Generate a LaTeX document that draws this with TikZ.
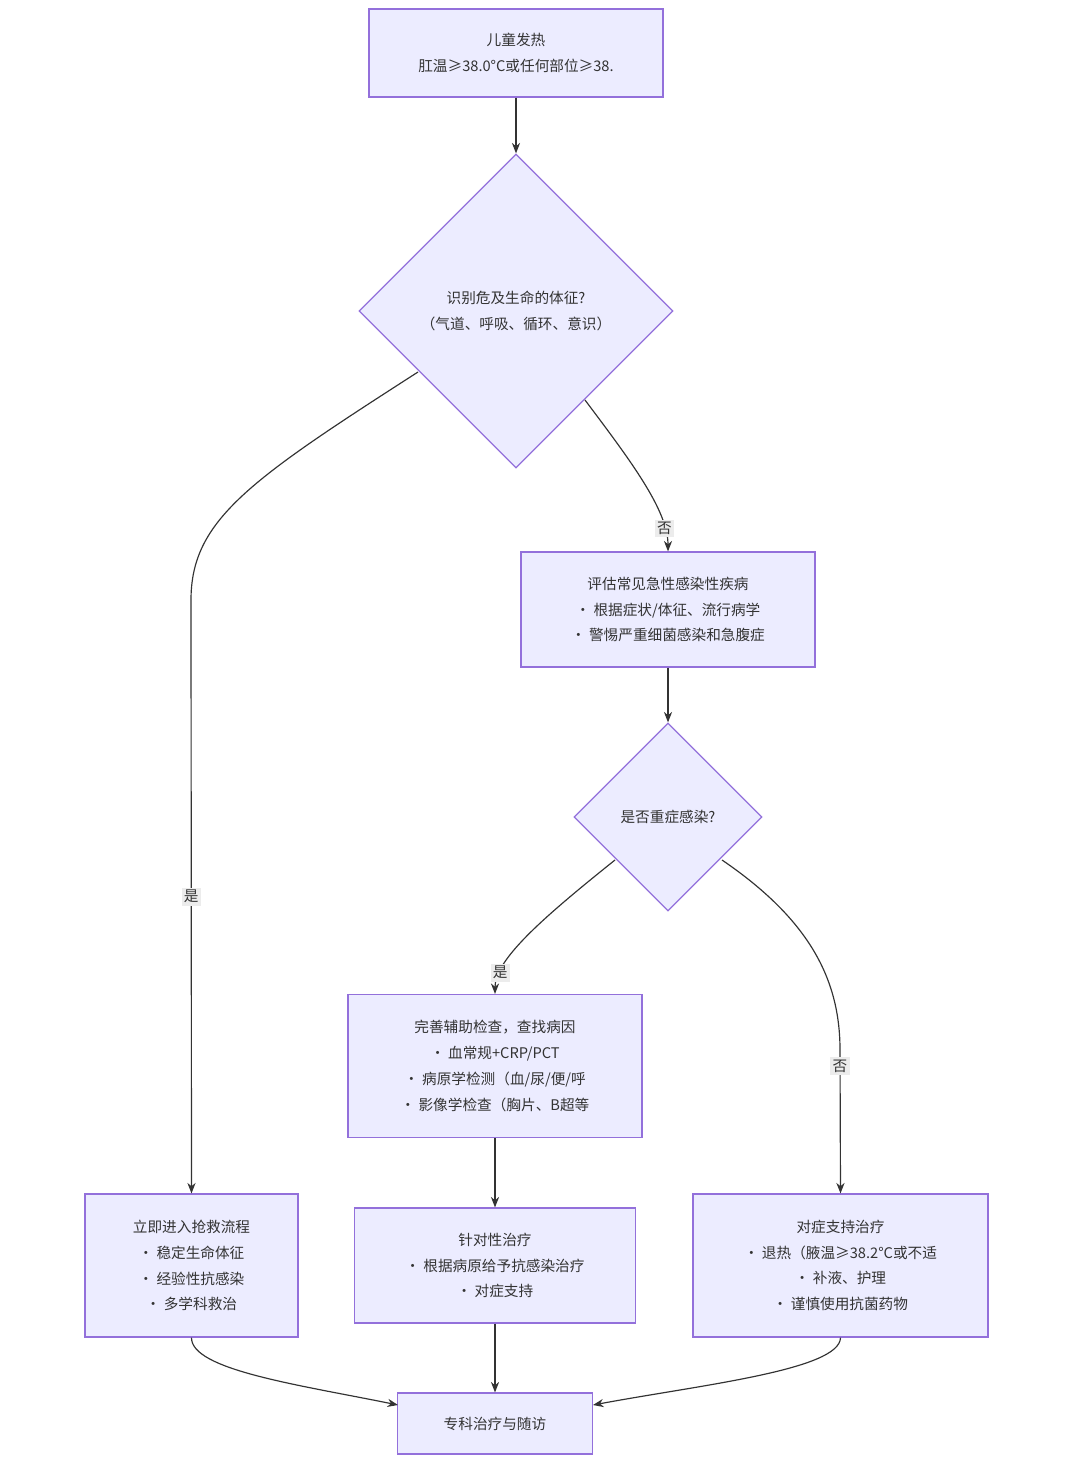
\documentclass[tikz,border=0pt]{standalone}
\usepackage{fontspec}
\setmainfont{Noto Sans CJK SC}
\usetikzlibrary{shapes.geometric,arrows.meta}
\definecolor{boxfill}{HTML}{ECECFF}
\definecolor{boxline}{HTML}{9370DB}
\definecolor{edge}{HTML}{333333}
\tikzset{
  box/.style={draw=boxline,fill=boxfill,line width=1pt,align=center,inner sep=0pt,
    font=\fontsize{12.5}{22}\selectfont,text=edge},
  dia/.style={box,diamond,aspect=1},
  link/.style={draw=edge,line width=1pt,-{Stealth[length=9pt,width=7pt]}},
  lab/.style={fill=gray!15,font=\fontsize{12.5}{14}\selectfont,text=edge,inner sep=2pt}
}
\begin{document}
\begin{tikzpicture}[x=0.03cm,y=-0.03cm]
\useasboundingbox (0,0) rectangle (1080,1464);

% nodes
\node[box,minimum width=294*0.03cm,minimum height=88*0.03cm] (fever) at (516,53)
  {儿童发热\\肛温≥38.0°C或任何部位≥38.};
\node[dia,minimum width=314*0.03cm,minimum height=314*0.03cm] (vital) at (516,311)
  {识别危及生命的体征?\\（气道、呼吸、循环、意识）};
\node[box,minimum width=294*0.03cm,minimum height=115*0.03cm] (assess) at (668,609.5)
  {评估常见急性感染性疾病\\• 根据症状/体征、流行病学\\• 警惕严重细菌感染和急腹症};
\node[dia,minimum width=188*0.03cm,minimum height=188*0.03cm] (severe) at (668,817)
  {是否重症感染?};
\node[box,minimum width=294*0.03cm,minimum height=143*0.03cm] (exam) at (495,1066)
  {完善辅助检查，查找病因\\• 血常规+CRP/PCT\\• 病原学检测（血/尿/便/呼\\• 影像学检查（胸片、B超等};
\node[box,minimum width=213*0.03cm,minimum height=143*0.03cm] (rescue) at (191.5,1265.5)
  {立即进入抢救流程\\• 稳定生命体征\\• 经验性抗感染\\• 多学科救治};
\node[box,minimum width=281*0.03cm,minimum height=115*0.03cm] (target) at (495,1265.5)
  {针对性治疗\\• 根据病原给予抗感染治疗\\• 对症支持};
\node[box,minimum width=295*0.03cm,minimum height=143*0.03cm] (support) at (840.5,1265.5)
  {对症支持治疗\\• 退热（腋温≥38.2°C或不适\\• 补液、护理\\• 谨慎使用抗菌药物};
\node[box,minimum width=195*0.03cm,minimum height=61*0.03cm] (follow) at (495,1423.5)
  {专科治疗与随访};

% bends
\coordinate (b1) at (191,600);
\coordinate (b2) at (840,1050);
\coordinate (e1) at (398,1405);
\coordinate (e2) at (593,1405);

% connectors
\draw[link] (fever) -- (vital);
\draw[link] (418,372) .. controls (250,480) and (191,520) .. (b1) -- node[lab]{是} (rescue.north);
\draw[link] (585,400) .. controls (630,460) and (668,510) .. (assess.north) node[lab,pos=0.82]{否};
\draw[link] (assess) -- (severe);
\draw[link] (615,860) .. controls (540,920) and (495,960) .. (exam.north) node[lab,pos=0.8]{是};
\draw[link] (722,860) .. controls (810,920) and (840,980) .. (b2) -- (support.north);
\node[lab] (no2) at (840,1066) {否};
\draw[link] (exam) -- (target);
\draw[link] (rescue.south) .. controls (191,1370) and (300,1385) .. (e1);
\draw[link] (target) -- (follow);
\draw[link] (support.south) .. controls (840,1370) and (700,1385) .. (e2);
\end{tikzpicture}
\end{document}
